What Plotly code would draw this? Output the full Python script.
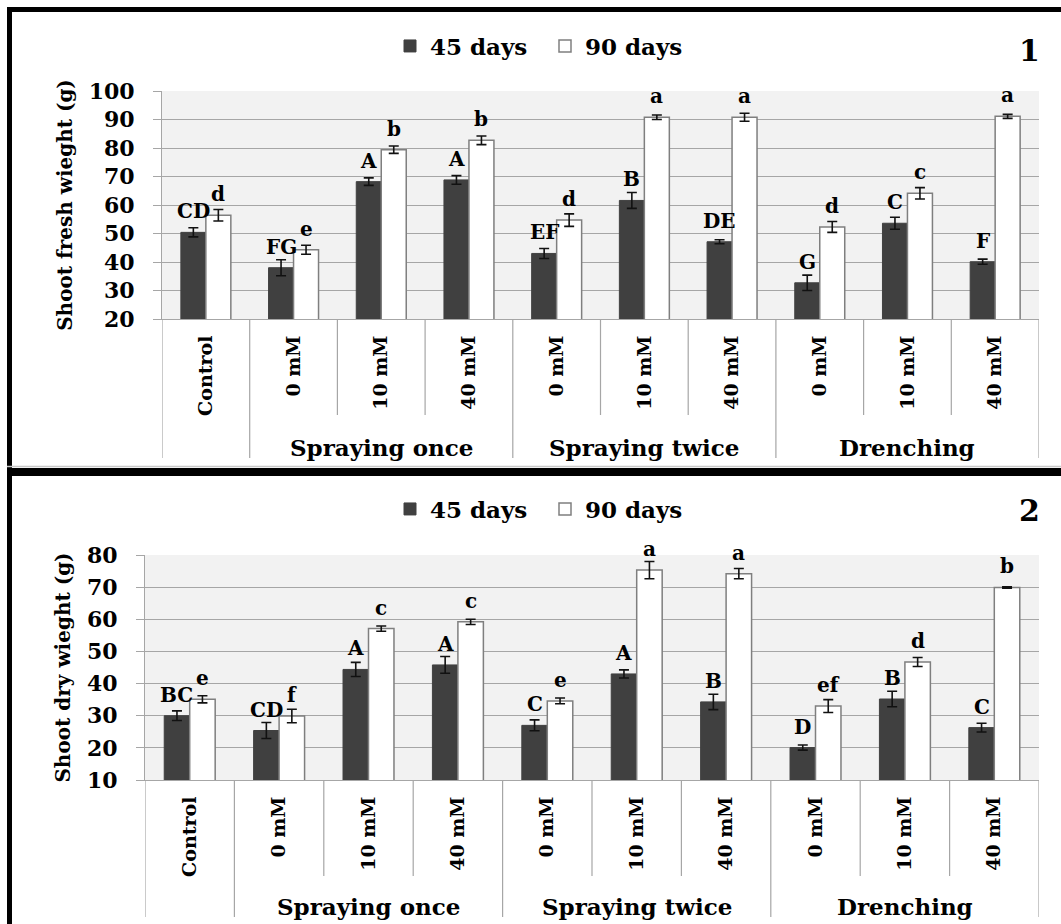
import plotly.graph_objects as go

# ---------------- data ----------------
sub_labels = ["Control", "0 mM", "10 mM", "40 mM", "0 mM", "10 mM", "40 mM", "0 mM", "10 mM", "40 mM"]
group_labels = ["", "Spraying once", "Spraying once", "Spraying once",
                "Spraying twice", "Spraying twice", "Spraying twice",
                "Drenching", "Drenching", "Drenching"]
series_names = ["45 days", "90 days"]

fresh_45 = [50.4, 38.0, 68.2, 68.8, 43.0, 61.6, 47.1, 32.7, 53.6, 40.1]
fresh_45_err = [1.6, 2.8, 1.3, 1.5, 1.75, 2.8, 0.7, 2.7, 2.1, 0.9]
fresh_90 = [56.4, 44.3, 79.4, 82.7, 54.7, 90.8, 90.8, 52.3, 64.1, 91.1]
fresh_90_err = [2.0, 1.6, 1.3, 1.5, 2.2, 0.8, 1.4, 1.9, 2.0, 0.7]
fresh_45_letters = ["CD", "FG", "A", "A", "EF", "B", "DE", "G", "C", "F"]
fresh_90_letters = ["d", "e", "b", "b", "d", "a", "a", "d", "c", "a"]

dry_45 = [30.0, 25.4, 44.4, 45.8, 27.0, 43.0, 34.3, 20.1, 35.2, 26.3]
dry_45_err = [1.5, 2.5, 2.2, 2.6, 1.7, 1.25, 2.4, 0.8, 2.4, 1.35]
dry_90 = [35.1, 29.9, 57.1, 59.2, 34.6, 75.3, 74.2, 33.0, 46.7, 69.9]
dry_90_err = [1.1, 2.1, 0.8, 0.8, 0.9, 2.7, 1.6, 2.0, 1.4, 0.2]
dry_45_letters = ["BC", "CD", "A", "A", "C", "A", "B", "D", "B", "C"]
dry_90_letters = ["e", "f", "c", "c", "e", "a", "a", "ef", "d", "b"]

y_titles = ["Shoot fresh wieght (g)", "Shoot dry wieght (g)"]
y_ranges = [[20, 100], [10, 80]]
panel_numbers = ["1", "2"]

# ---------------- styling ----------------
W, H = 1061, 924
FONT = "DejaVu Serif"
DARK = "#404040"
GRID = "#a6a6a6"
BARGAP = 0.43


def px_x(p):
    return p / W


def px_y(p):
    return 1 - p / H


panels = [
    dict(xd=[px_x(162), px_x(1039)], yd=[px_y(319), px_y(91)], axis_px=319,
         sub_bottom=415, grp_bottom=458, grp_label_y=447, legend_y=46, num_y=50,
         data=[(fresh_45, fresh_45_err, fresh_45_letters), (fresh_90, fresh_90_err, fresh_90_letters)]),
    dict(xd=[px_x(145), px_x(1039)], yd=[px_y(780), px_y(555)], axis_px=780,
         sub_bottom=876, grp_bottom=917, grp_label_y=906, legend_y=509, num_y=510,
         data=[(dry_45, dry_45_err, dry_45_letters), (dry_90, dry_90_err, dry_90_letters)]),
]

fig = go.Figure()
xs = list(range(len(sub_labels)))
shapes = []
annotations = []
bar_half = (1 - BARGAP) / 4  # center offset of each bar within a pair

for pi, pan in enumerate(panels):
    sfx = "" if pi == 0 else str(pi + 1)
    xa, ya = "x" + sfx, "y" + sfx
    legend_name = "legend" + sfx
    for si, (vals, errs, letters) in enumerate(pan["data"]):
        dark = si == 0
        fig.add_trace(go.Bar(
            x=xs, y=vals, name=series_names[si], xaxis=xa, yaxis=ya,
            legend=legend_name,
            marker=dict(color=DARK if dark else "white",
                        line=dict(color=DARK if dark else "#7f7f7f", width=1 if dark else 1.5)),
            error_y=dict(type="data", array=errs, visible=True, color="#111111",
                         thickness=1.6, width=5),
        ))
        off = -bar_half if dark else bar_half
        for i, (v, lab) in enumerate(zip(vals, letters)):
            annotations.append(dict(
                x=i + off, y=v, xref=xa, yref=ya, text=lab, showarrow=False,
                yanchor="bottom", xanchor="center", yshift=7,
                font=dict(family=FONT, size=20, color="black", weight="bold")))

    # axes
    fig.layout["xaxis" + sfx] = dict(
        domain=pan["xd"], anchor=ya, range=[-0.5, len(xs) - 0.5], automargin=False,
        tickmode="array", tickvals=xs, ticktext=sub_labels, tickangle=-90,
        tickfont=dict(family=FONT, size=19, color="black", weight="bold"),
        ticks="", showgrid=False, showline=True, linecolor=GRID, linewidth=1,
        ticklabelstandoff=8, fixedrange=True)
    fig.layout["yaxis" + sfx] = dict(
        domain=pan["yd"], anchor=xa, range=y_ranges[pi], dtick=10, automargin=False,
        tickfont=dict(family=FONT, size=22, color="black", weight="bold"),
        ticks="outside", ticklen=8, tickcolor=GRID,
        showgrid=True, gridcolor=GRID, gridwidth=1,
        showline=True, linecolor=GRID, linewidth=1, zeroline=False,
        ticklabelstandoff=14, fixedrange=True,
        title=dict(text=y_titles[pi], standoff=10,
                   font=dict(family=FONT, size=20, color="black", weight="bold")))

    # category dividers below the axis
    axis_bottom = px_y(pan["axis_px"])
    for b in range(len(xs) + 1):
        is_group = b == 0 or b == len(xs) or group_labels[b] != group_labels[b - 1]
        bottom = pan["grp_bottom"] if is_group else pan["sub_bottom"]
        shapes.append(dict(type="line", xref=xa, yref="paper",
                           x0=b - 0.5, x1=b - 0.5, y0=axis_bottom, y1=px_y(bottom),
                           line=dict(color=GRID, width=1.2)))

    # group labels
    seen = []
    for g in group_labels:
        if g and g not in seen:
            seen.append(g)
    for g in seen:
        idx = [i for i, gg in enumerate(group_labels) if gg == g]
        annotations.append(dict(
            x=sum(idx) / len(idx), y=px_y(pan["grp_label_y"]), xref=xa, yref="paper",
            text=g, showarrow=False, xanchor="center", yanchor="middle",
            font=dict(family=FONT, size=23, color="black", weight="bold")))

    # panel number
    annotations.append(dict(
        x=px_x(1029), y=px_y(pan["num_y"]), xref="paper", yref="paper",
        text=panel_numbers[pi], showarrow=False, xanchor="center", yanchor="middle",
        font=dict(family=FONT, size=30, color="black", weight="bold")))

    # legend
    fig.layout[legend_name] = dict(
        orientation="h", x=px_x(390), xanchor="left",
        y=px_y(pan["legend_y"]), yanchor="middle",
        font=dict(family=FONT, size=23, color="black", weight="bold"),
        bgcolor="rgba(0,0,0,0)", entrywidth=110, traceorder="normal")

# panel frames
shapes += [
    dict(type="line", xref="paper", yref="paper", x0=px_x(7), x1=1.01, y0=px_y(9.5), y1=px_y(9.5),
         line=dict(color="black", width=5)),
    dict(type="line", xref="paper", yref="paper", x0=px_x(9.5), x1=px_x(9.5), y0=px_y(7), y1=-0.01,
         line=dict(color="black", width=5)),
    dict(type="line", xref="paper", yref="paper", x0=px_x(7), x1=1.01, y0=px_y(466.5), y1=px_y(466.5),
         line=dict(color="#c8c8c8", width=1.5)),
    dict(type="line", xref="paper", yref="paper", x0=px_x(7), x1=1.01, y0=px_y(472), y1=px_y(472),
         line=dict(color="black", width=8)),
]

fig.update_layout(
    width=W, height=H, margin=dict(l=0, r=0, t=0, b=0, autoexpand=False),
    paper_bgcolor="white", plot_bgcolor="#f2f2f2",
    barmode="group", bargap=BARGAP, bargroupgap=0,
    shapes=shapes, annotations=annotations,
    font=dict(family=FONT, color="black"),
)

fig.write_html("out.html", config={"displayModeBar": False},
               post_script="document.body.style.margin='0';document.body.style.overflow='hidden';")
